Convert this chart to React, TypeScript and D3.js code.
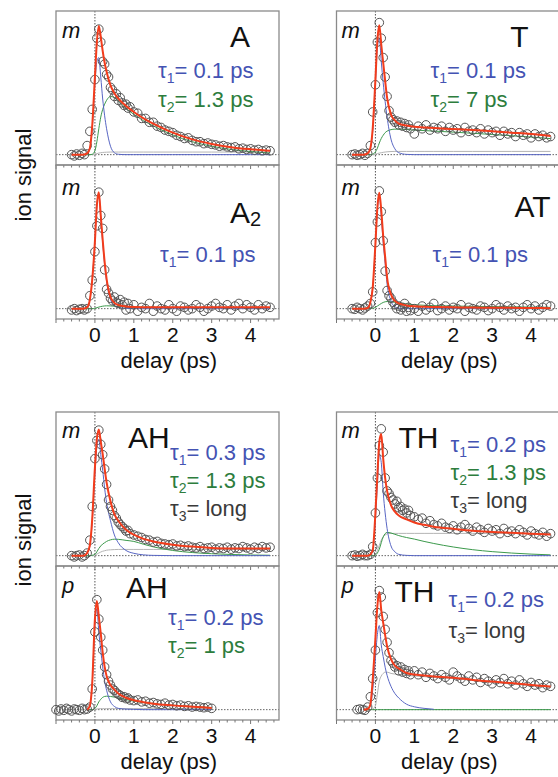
import * as d3 from "d3";

// delay grid of the measured points (ps)
const delays = [
  -0.6, -0.53, -0.47, -0.4, -0.33, -0.27, -0.2, -0.13, -0.07,
  0, 0.05, 0.1, 0.15, 0.2, 0.25, 0.3, 0.35, 0.4, 0.45, 0.5, 0.55, 0.6, 0.65, 0.7, 0.75, 0.8, 0.85, 0.9,
  1.0, 1.1, 1.2, 1.3, 1.4, 1.5, 1.6, 1.7, 1.8, 1.9,
  2.0, 2.1, 2.2, 2.3, 2.4, 2.5, 2.6, 2.7, 2.8, 2.9,
  3.0, 3.1, 3.2, 3.3, 3.4, 3.5, 3.6, 3.7, 3.8, 3.9,
  4.0, 4.1, 4.2, 4.3, 4.4, 4.5,
];
// AH (p) scan is longer before zero and stops at 3 ps
const delaysAHp = [
  -1.0, -0.93, -0.87, -0.8, -0.73, -0.67, -0.6, -0.53, -0.47, -0.4, -0.33, -0.27, -0.2, -0.13, -0.07,
  0, 0.05, 0.1, 0.15, 0.2, 0.25, 0.3, 0.35, 0.4, 0.45, 0.5, 0.55, 0.6, 0.65, 0.7, 0.75, 0.8, 0.85, 0.9,
  1.0, 1.1, 1.2, 1.3, 1.4, 1.5, 1.6, 1.7, 1.8, 1.9, 2.0, 2.1, 2.2, 2.3, 2.4, 2.5, 2.6, 2.7, 2.8, 2.9, 3.0,
];
// delay grid of the fit curves (ps)
const fitDelays = [-0.6, -0.3, -0.2, -0.13, -0.07, 0, 0.05, 0.1, 0.15, 0.2, 0.25, 0.3, 0.4, 0.5, 0.6, 0.8, 1.0, 1.25, 1.5, 2.0, 2.5, 3.0, 3.5, 4.0, 4.5];

const tickLabels = [0, 1, 2, 3, 4];

// measured ion signal (normalised)
const sigA = [
  0.0, -0.01, 0.005, -0.005, 0.01, 0.0, 0.07, 0.18, 0.35,
  0.58, 0.9, 0.97, 0.87, 0.72, 0.7, 0.62, 0.6, 0.52, 0.5, 0.45, 0.47, 0.42, 0.44, 0.4, 0.38, 0.39, 0.36, 0.37,
  0.33, 0.32, 0.28, 0.28, 0.25, 0.25, 0.22, 0.21, 0.19, 0.18, 0.17, 0.15, 0.14, 0.125, 0.13, 0.11, 0.1, 0.1, 0.085, 0.09,
  0.08, 0.075, 0.065, 0.07, 0.06, 0.055, 0.06, 0.045, 0.05, 0.04, 0.045, 0.035, 0.04, 0.03, 0.035, 0.03,
];
const sigA2 = [
  -0.01, 0.0, -0.015, -0.005, 0.0, -0.01, 0.0, 0.1, 0.22,
  0.44, 0.64, 0.9, 0.72, 0.62, 0.3, 0.15, 0.12, 0.08, 0.06, 0.09, 0.05, 0.04, 0.07, 0.03, 0.05, -0.01, 0.04, 0.0,
  0.03, -0.02, 0.01, 0.0, 0.04, -0.02, 0.02, 0.0, -0.01, 0.03, 0.0, -0.02, 0.02, 0.01, -0.01, 0.0, 0.03, 0.01, -0.02, 0.0,
  0.02, 0.04, 0.01, 0.0, 0.03, -0.01, 0.02, 0.04, 0.0, 0.03, 0.01, -0.01, 0.03, 0.0, 0.02, 0.01,
];
const sigT = [
  0.0, 0.005, -0.005, 0.0, 0.01, -0.005, 0.01, 0.07, 0.33,
  0.54, 0.87, 1.02, 0.9, 0.75, 0.6, 0.45, 0.34, 0.29, 0.27, 0.25, 0.26, 0.23, 0.25, 0.22, 0.24, 0.21, 0.23, 0.2,
  0.16, 0.22, 0.2, 0.23, 0.19, 0.21, 0.2, 0.22, 0.18, 0.21, 0.19, 0.2, 0.17, 0.21, 0.18, 0.19, 0.17, 0.2, 0.16, 0.19,
  0.17, 0.18, 0.15, 0.18, 0.16, 0.17, 0.14, 0.17, 0.15, 0.16, 0.13, 0.16, 0.14, 0.15, 0.13, 0.14,
];
const sigAT = [
  0.0, -0.005, 0.01, 0.0, -0.01, 0.005, 0.02, 0.04, 0.13,
  0.51, 0.67, 0.91, 0.75, 0.525, 0.29, 0.14, 0.1, 0.08, 0.05, 0.03, 0.0, 0.02, -0.01, 0.01, 0.04, -0.02, 0.01, -0.015,
  0.0, -0.02, 0.02, -0.01, 0.01, 0.04, -0.015, 0.0, 0.02, -0.01, 0.01, 0.0, 0.03, -0.02, 0.01, 0.0, -0.01, 0.02, 0.01, -0.015,
  0.0, 0.03, 0.01, -0.01, 0.02, 0.0, 0.01, -0.02, 0.01, 0.03, 0.0, 0.02, -0.01, 0.01, 0.03, 0.02,
];
const sigAHm = [
  0.0, -0.01, 0.0, 0.005, -0.01, 0.0, 0.02, 0.12, 0.38,
  0.75, 0.89, 0.97, 0.86, 0.78, 0.67, 0.55, 0.43, 0.38, 0.35, 0.31, 0.29, 0.26, 0.24, 0.225, 0.21, 0.19, 0.195, 0.17,
  0.16, 0.15, 0.14, 0.125, 0.12, 0.105, 0.11, 0.095, 0.09, 0.085, 0.09, 0.075, 0.08, 0.07, 0.075, 0.065, 0.06, 0.07, 0.055, 0.06,
  0.065, 0.05, 0.06, 0.055, 0.065, 0.05, 0.06, 0.055, 0.07, 0.06, 0.05, 0.065, 0.055, 0.07, 0.06, 0.065,
];
const sigTHm = [
  0.0, 0.005, -0.005, 0.0, 0.01, 0.0, 0.0, 0.01, 0.07,
  0.33, 0.6, 0.85, 0.98, 0.8, 0.6, 0.5, 0.48, 0.45, 0.43, 0.4, 0.42, 0.37, 0.38, 0.35, 0.36, 0.33, 0.35, 0.31,
  0.3, 0.28, 0.29, 0.25, 0.27, 0.24, 0.23, 0.25, 0.22, 0.21, 0.23, 0.2, 0.22, 0.24, 0.21, 0.19, 0.22, 0.2, 0.18, 0.21,
  0.19, 0.2, 0.17, 0.21, 0.18, 0.19, 0.17, 0.2, 0.18, 0.16, 0.19, 0.17, 0.16, 0.18, 0.15, 0.17,
];
const sigAHp = [
  0.0, -0.01, 0.005, -0.005, 0.01, 0.0, -0.01, 0.005, 0.0, -0.005, 0.01, 0.0, 0.005, 0.02, 0.16,
  0.6, 0.85, 0.7, 0.56, 0.46, 0.33, 0.27, 0.22, 0.19, 0.16, 0.15, 0.13, 0.12, 0.11, 0.095, 0.1, 0.085, 0.09, 0.075,
  0.07, 0.075, 0.06, 0.065, 0.05, 0.055, 0.045, 0.04, 0.05, 0.035, 0.04, 0.03, 0.035, 0.025, 0.03, 0.02, 0.025, 0.02, 0.015, 0.02, 0.01,
];
const sigTHp = [
  null, null, 0.0, 0.005, 0.0, -0.005, 0.02, 0.1, 0.24,
  0.46, 0.75, 0.92, 0.87, 0.72, 0.62, 0.52, 0.44, 0.38, 0.36, 0.33, 0.34, 0.3, 0.33, 0.29, 0.31, 0.28, 0.3, 0.27,
  0.3, 0.27, 0.29, 0.25, 0.28, 0.26, 0.24, 0.27, 0.25, 0.23, 0.29, 0.26, 0.24, 0.22, 0.26, 0.23, 0.25, 0.21, 0.24, 0.22,
  0.2, 0.23, 0.21, 0.24, 0.2, 0.22, 0.19, 0.23, 0.2, 0.18, 0.21, 0.19, 0.2, 0.17, 0.19, 0.18,
];

// fits: total (red), tau1 (blue), tau2 (green), tau3 (grey)
const totalA = [0, 0, 0.01, 0.05, 0.22, 0.6, 0.87, 0.995, 0.91, 0.8, 0.71, 0.64, 0.535, 0.475, 0.435, 0.375, 0.33, 0.28, 0.24, 0.17, 0.118, 0.083, 0.058, 0.042, 0.03];
const tau1A = [0, 0, 0.01, 0.045, 0.2, 0.55, 0.72, 0.75, 0.6, 0.43, 0.3, 0.2, 0.065, 0.015, 0.003, 0, 0, 0, 0, 0, 0, 0, 0, 0, 0];
const tau2A = [0, 0, 0, 0, 0.003, 0.03, 0.1, 0.2, 0.29, 0.35, 0.39, 0.42, 0.45, 0.44, 0.415, 0.357, 0.312, 0.262, 0.222, 0.152, 0.1, 0.065, 0.04, 0.024, 0.012];
const tau3A = [0, 0, 0, 0, 0, 0.003, 0.008, 0.012, 0.015, 0.017, 0.018, 0.019, 0.02, 0.02, 0.02, 0.02, 0.02, 0.02, 0.02, 0.02, 0.02, 0.02, 0.02, 0.02, 0.02];

const totalA2 = [0, 0, 0.01, 0.07, 0.22, 0.52, 0.8, 0.9, 0.72, 0.53, 0.36, 0.23, 0.09, 0.045, 0.028, 0.017, 0.013, 0.011, 0.01, 0.01, 0.01, 0.01, 0.01, 0.01, 0.01];
const tau1A2 = [0, 0, 0.01, 0.07, 0.22, 0.52, 0.79, 0.89, 0.7, 0.51, 0.34, 0.21, 0.07, 0.025, 0.01, 0.002, 0, 0, 0, 0, 0, 0, 0, 0, 0];
const tau2A2 = [0, 0, 0, 0, 0, 0.003, 0.008, 0.012, 0.016, 0.019, 0.021, 0.022, 0.021, 0.019, 0.017, 0.014, 0.012, 0.011, 0.01, 0.009, 0.009, 0.008, 0.008, 0.008, 0.008];

const totalT = [0, 0, 0.01, 0.05, 0.2, 0.58, 0.88, 1.0, 0.85, 0.71, 0.57, 0.44, 0.31, 0.265, 0.24, 0.225, 0.215, 0.21, 0.205, 0.198, 0.19, 0.18, 0.17, 0.16, 0.145];
const tau1T = [0, 0, 0.01, 0.045, 0.18, 0.55, 0.83, 0.9, 0.72, 0.555, 0.41, 0.29, 0.12, 0.045, 0.015, 0.002, 0, 0, 0, 0, 0, 0, 0, 0, 0];
const tau2T = [0, 0, 0, 0, 0.005, 0.02, 0.05, 0.09, 0.125, 0.15, 0.17, 0.182, 0.193, 0.197, 0.197, 0.194, 0.19, 0.186, 0.182, 0.174, 0.165, 0.156, 0.146, 0.136, 0.124];
const tau3T = [0, 0, 0, 0, 0, 0.003, 0.008, 0.012, 0.015, 0.018, 0.02, 0.022, 0.024, 0.025, 0.025, 0.025, 0.025, 0.025, 0.025, 0.025, 0.025, 0.025, 0.025, 0.025, 0.025];

const totalAT = [0, 0, 0.005, 0.05, 0.16, 0.5, 0.78, 0.895, 0.76, 0.56, 0.4, 0.24, 0.11, 0.06, 0.04, 0.025, 0.018, 0.014, 0.012, 0.01, 0.008, 0.007, 0.006, 0.005, 0.004];
const tau1AT = [0, 0, 0.005, 0.05, 0.16, 0.49, 0.76, 0.87, 0.72, 0.51, 0.35, 0.19, 0.06, 0.015, 0.004, 0, 0, 0, 0, 0, 0, 0, 0, 0, 0];
const tau2AT = [0, 0, 0, 0, 0.003, 0.01, 0.02, 0.03, 0.04, 0.048, 0.053, 0.055, 0.054, 0.049, 0.044, 0.036, 0.03, 0.026, 0.023, 0.02, 0.018, 0.016, 0.014, 0.012, 0.01];

const totalAHm = [0, 0, 0.02, 0.08, 0.28, 0.68, 0.9, 0.975, 0.88, 0.785, 0.67, 0.566, 0.42, 0.32, 0.27, 0.2, 0.162, 0.13, 0.11, 0.085, 0.07, 0.06, 0.056, 0.055, 0.055];
const tau1AHm = [0, 0, 0.02, 0.075, 0.26, 0.63, 0.84, 0.9, 0.78, 0.66, 0.52, 0.41, 0.27, 0.16, 0.1, 0.04, 0.018, 0.006, 0.002, 0, 0, 0, 0, 0, 0];
const tau2AHm = [0, 0, 0, 0, 0.003, 0.01, 0.03, 0.055, 0.075, 0.09, 0.1, 0.11, 0.122, 0.127, 0.126, 0.118, 0.11, 0.088, 0.068, 0.04, 0.024, 0.015, 0.009, 0.005, 0.003];
const tau3AHm = [0, 0, 0, 0, 0, 0.005, 0.012, 0.02, 0.028, 0.034, 0.038, 0.042, 0.045, 0.047, 0.048, 0.048, 0.048, 0.048, 0.048, 0.048, 0.048, 0.048, 0.048, 0.048, 0.048];

const totalTHm = [0, 0, 0, 0.01, 0.04, 0.33, 0.62, 0.88, 0.94, 0.75, 0.6, 0.5, 0.39, 0.34, 0.31, 0.28, 0.256, 0.238, 0.224, 0.207, 0.192, 0.183, 0.176, 0.17, 0.163];
const tau1THm = [0, 0, 0, 0.01, 0.035, 0.28, 0.55, 0.78, 0.72, 0.49, 0.33, 0.21, 0.075, 0.03, 0.01, 0.002, 0, 0, 0, 0, 0, 0, 0, 0, 0];
const tau2THm = [0, 0, 0, 0, 0, 0.005, 0.02, 0.05, 0.1, 0.145, 0.17, 0.18, 0.175, 0.165, 0.155, 0.14, 0.128, 0.11, 0.094, 0.067, 0.046, 0.031, 0.02, 0.012, 0.006];
const tau3THm = [0, 0, 0, 0, 0, 0.01, 0.04, 0.08, 0.12, 0.145, 0.16, 0.168, 0.172, 0.172, 0.172, 0.172, 0.172, 0.172, 0.172, 0.172, 0.172, 0.172, 0.172, 0.172, 0.172];

const totalAHp = [null, null, 0, 0.03, 0.2, 0.7, 0.84, 0.72, 0.59, 0.44, 0.33, 0.26, 0.19, 0.155, 0.125, 0.092, 0.073, 0.058, 0.046, 0.033, 0.023, 0.013, null, null, null];
const tau1AHp = [null, null, 0, 0.03, 0.2, 0.66, 0.78, 0.6, 0.46, 0.33, 0.22, 0.15, 0.06, 0.025, 0.01, 0.004, 0.002, 0, 0, 0, 0, 0, null, null, null];
const tau2AHp = [null, null, 0, 0, 0, 0.01, 0.03, 0.06, 0.08, 0.095, 0.102, 0.104, 0.102, 0.097, 0.09, 0.078, 0.065, 0.055, 0.046, 0.034, 0.025, 0.016, null, null, null];
const tau3AHp = [null, null, 0, 0, 0, 0.003, 0.005, 0.007, 0.008, 0.008, 0.008, 0.008, 0.008, 0.008, 0.008, 0.008, 0.008, 0.008, 0.008, 0.008, 0.008, 0.008, null, null, null];

const totalTHp = [null, 0, 0.005, 0.04, 0.23, 0.55, 0.8, 0.91, 0.77, 0.67, 0.576, 0.49, 0.39, 0.34, 0.318, 0.283, 0.272, 0.263, 0.257, 0.247, 0.23, 0.217, 0.205, 0.19, 0.178];
const tau1THp = [null, 0, 0.005, 0.03, 0.15, 0.4, 0.58, 0.65, 0.5, 0.41, 0.328, 0.265, 0.18, 0.125, 0.09, 0.042, 0.022, 0.01, 0.003, null, null, null, null, null, null];
const tau2THp = [null, 0, 0, 0, 0, 0, 0, 0, 0, 0, 0, 0, 0, 0, 0, 0, 0, 0, 0, 0, 0, 0, 0, 0, 0];
const tau3THp = [null, 0, 0, 0, 0.005, 0.03, 0.12, 0.22, 0.26, 0.28, 0.29, 0.29, 0.28, 0.275, 0.27, 0.265, 0.26, 0.255, 0.25, 0.24, 0.225, 0.21, 0.198, 0.185, 0.172];

const BLUE = "#4453b3";
const GREEN = "#2d7d3d";
const GREY = "#3a3a3a";

type Tau = { n: string; v: string; color: string };

const panels = [
  { col: 0, row: 0, tag: "m", name: "A", sub: "", t: delays, sig: sigA, fits: [totalA, tau1A, tau2A, tau3A],
    taus: [{ n: "1", v: "0.1 ps", color: BLUE }, { n: "2", v: "1.3 ps", color: GREEN }] },
  { col: 0, row: 1, tag: "m", name: "A", sub: "2", t: delays, sig: sigA2, fits: [totalA2, tau1A2, tau2A2, []],
    taus: [{ n: "1", v: "0.1 ps", color: BLUE }] },
  { col: 1, row: 0, tag: "m", name: "T", sub: "", t: delays, sig: sigT, fits: [totalT, tau1T, tau2T, tau3T],
    taus: [{ n: "1", v: "0.1 ps", color: BLUE }, { n: "2", v: "7 ps", color: GREEN }] },
  { col: 1, row: 1, tag: "m", name: "AT", sub: "", t: delays, sig: sigAT, fits: [totalAT, tau1AT, tau2AT, []],
    taus: [{ n: "1", v: "0.1 ps", color: BLUE }] },
  { col: 0, row: 2, tag: "m", name: "AH", sub: "", t: delays, sig: sigAHm, fits: [totalAHm, tau1AHm, tau2AHm, tau3AHm],
    taus: [{ n: "1", v: "0.3 ps", color: BLUE }, { n: "2", v: "1.3 ps", color: GREEN }, { n: "3", v: "long", color: GREY }] },
  { col: 0, row: 3, tag: "p", name: "AH", sub: "", t: delaysAHp, sig: sigAHp, fits: [totalAHp, tau1AHp, tau2AHp, tau3AHp],
    taus: [{ n: "1", v: "0.2 ps", color: BLUE }, { n: "2", v: "1 ps", color: GREEN }] },
  { col: 1, row: 2, tag: "m", name: "TH", sub: "", t: delays, sig: sigTHm, fits: [totalTHm, tau1THm, tau2THm, tau3THm],
    taus: [{ n: "1", v: "0.2 ps", color: BLUE }, { n: "2", v: "1.3 ps", color: GREEN }, { n: "3", v: "long", color: GREY }] },
  { col: 1, row: 3, tag: "p", name: "TH", sub: "", t: delays, sig: sigTHp, fits: [totalTHp, tau1THp, tau2THp, tau3THp],
    taus: [{ n: "1", v: "0.2 ps", color: BLUE }, { n: "3", v: "long", color: GREY }] },
];

// text placement inside each panel (px from panel top-left)
const textPos = [
  { tag: [6, 27], name: [194, 36, "end"], tau: [102, 67, 29] },
  { tag: [6, 30], name: [174, 58, "start"], tau: [104, 97, 29] },
  { tag: [5, 27], name: [192, 36, "end"], tau: [94, 67, 29] },
  { tag: [5, 30], name: [214, 52, "end"], tau: [96, 97, 29] },
  { tag: [6, 26], name: [72, 36, "start"], tau: [114, 48, 28] },
  { tag: [6, 27], name: [70, 32, "start"], tau: [112, 59, 28] },
  { tag: [5, 26], name: [62, 36, "start"], tau: [114, 40, 28] },
  { tag: [5, 27], name: [58, 36, "start"], tau: [112, 41, 31] },
];

const FONT = "'Liberation Sans', Arial, Helvetica, sans-serif";
const colX = [56, 336.5];
const rowY = [11, 165, 412, 566];
const PW = 223;
const PH = 154;
const ionY = [175, 540];
const fitColors = ["#f23c1c", "#5866c4", "#3c9a4c", "#b4b4b4"];
const fitWidths = [2, 1, 1, 1];

function Panel({ p, i }: { p: any; i: number }) {
  const x0 = colX[p.col];
  const y0 = rowY[p.row];
  const x = d3.scaleLinear().domain([-1, 4.73]).range([x0, x0 + PW]);
  const y = d3.scaleLinear().domain([-0.08, 1.11]).range([y0 + PH, y0]);
  const line = d3
    .line<[number, number | null]>()
    .defined((d) => d[1] != null)
    .x((d) => x(d[0]))
    .y((d) => y(d[1] as number))
    .curve(d3.curveMonotoneX);
  const ticks = d3.range(-1, 4.75, 0.2);
  const pos = textPos[i];
  const pts = p.t.map((t: number, k: number) => [t, p.sig[k]]).filter((d: any) => d[1] != null);
  const fitPath = (arr: (number | null)[]) =>
    arr.length ? line(fitDelays.map((t, k) => [t, arr[k]] as [number, number | null])) : null;

  return (
    <g>
      <line x1={x0} x2={x0 + PW} y1={y(0)} y2={y(0)} stroke="#666" strokeWidth={1} strokeDasharray="1.5,1.5" />
      <line x1={x(0)} x2={x(0)} y1={y0} y2={y0 + PH} stroke="#555" strokeWidth={1} strokeDasharray="1.5,1.5" />
      <rect x={x0} y={y0} width={PW} height={PH} fill="none" stroke="#8a8a8a" strokeWidth={1.3} />
      {ticks.map((t, k) => (
        <line key={k} x1={x(t)} x2={x(t)} y1={y0 + PH} y2={y0 + PH + (Math.abs(t - Math.round(t)) < 0.01 ? 4 : 2.5)} stroke="#777" strokeWidth={1} />
      ))}
      {[3, 2, 1].map((j) =>
        p.fits[j] && p.fits[j].length ? (
          <path key={j} d={fitPath(p.fits[j]) || ""} fill="none" stroke={fitColors[j]} strokeWidth={fitWidths[j]} />
        ) : null
      )}
      {pts.map((d: any, k: number) => (
        <circle key={k} cx={x(d[0])} cy={y(d[1])} r={4.3} fill="none" stroke="#555" strokeWidth={1} />
      ))}
      <path d={fitPath(p.fits[0]) || ""} fill="none" stroke={fitColors[0]} strokeWidth={fitWidths[0]} />
      <text x={x0 + pos.tag[0]} y={y0 + pos.tag[1]} fontSize={22} fontStyle="italic" fontFamily={FONT} fill="#111">
        {p.tag}
      </text>
      <text x={x0 + (pos.name[0] as number)} y={y0 + (pos.name[1] as number)} fontSize={30} fontFamily={FONT} fill="#111" textAnchor={pos.name[2] as any}>
        {p.name}
        {p.sub ? (
          <tspan fontSize={20} dy={3}>
            {p.sub}
          </tspan>
        ) : null}
      </text>
      {p.taus.map((tau: Tau, k: number) => (
        <text key={k} x={x0 + pos.tau[0]} y={y0 + pos.tau[1] + k * pos.tau[2]} fontSize={22} fontFamily={FONT} fill={tau.color}>
          τ
          <tspan fontSize={14} dy={5}>
            {tau.n}
          </tspan>
          <tspan dy={-5}>= {tau.v}</tspan>
        </text>
      ))}
    </g>
  );
}

export default function App() {
  const xl = [
    d3.scaleLinear().domain([-1, 4.73]).range([colX[0], colX[0] + PW]),
    d3.scaleLinear().domain([-1, 4.73]).range([colX[1], colX[1] + PW]),
  ];
  const bottoms = [rowY[1] + PH, rowY[3] + PH];
  return (
    <svg width={558} height={777} style={{ position: "absolute", left: 0, top: 0, background: "#fff" }} fontFamily={FONT}>
      {panels.map((p, i) => (
        <Panel key={i} p={p} i={i} />
      ))}
      {bottoms.map((b, g) => (
        <g key={g}>
          {xl.map((x, c) => (
            <g key={c}>
              {tickLabels.map((v) => (
                <text key={v} x={x(v)} y={b + 23} fontSize={21} textAnchor="middle" fill="#111">
                  {v}
                </text>
              ))}
              <text x={x(1.9)} y={b + 49} fontSize={22} textAnchor="middle" fill="#111">
                delay (ps)
              </text>
            </g>
          ))}
          <text transform={`translate(31,${ionY[g]}) rotate(-90)`} fontSize={22} textAnchor="middle" fill="#111">
            ion signal
          </text>
        </g>
      ))}
    </svg>
  );
}
